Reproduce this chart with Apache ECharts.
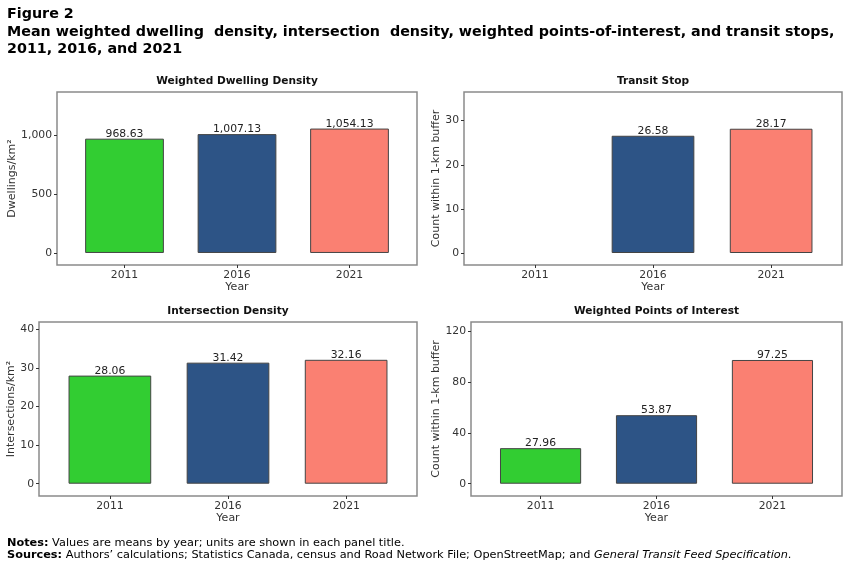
<!DOCTYPE html>
<html>
<head>
<meta charset="utf-8">
<script src="https://cdn.jsdelivr.net/npm/echarts@6/dist/echarts.min.js"></script>
<style>
html,body{margin:0;padding:0;background:#fff;}
#chart{width:850px;height:571px;}
</style>
</head>
<body>
<div id="chart"></div>
<script>
// ---- Data ----
const years = ['2011', '2016', '2021'];
const barColors = ['#32CD32', '#2D5486', '#FA8072'];
const dwellingValues = [968.63, 1007.13, 1054.13];
const transitValues = [null, 26.58, 28.17];
const intersectionValues = [28.06, 31.42, 32.16];
const poiValues = [27.96, 53.87, 97.25];
const dwellingTicks = [0, 500, 1000];
const transitTicks = [0, 10, 20, 30];
const intersectionTicks = [0, 10, 20, 30, 40];
const poiTicks = [0, 40, 80, 120];
const panelTitles = ['Weighted Dwelling Density', 'Transit Stop', 'Intersection Density', 'Weighted Points of Interest'];
const yNames = ['Dwellings/km\u00b2', 'Count within 1-km buffer', 'Intersections/km\u00b2', 'Count within 1-km buffer'];
const xName = 'Year';
const headerLines = ['Figure 2', 'Mean weighted dwelling  density, intersection  density, weighted points-of-interest, and transit stops,', '2011, 2016, and 2021'];

// ---- Layout ----
const FONT = 'DejaVu Sans';
const panels = [
  { values: dwellingValues, ticks: dwellingTicks, grid: {left: 57, top: 92, width: 360, height: 173}, yMin: -102, yMax: 1364, nameGap: 34 },
  { values: transitValues, ticks: transitTicks, grid: {left: 464, top: 92, width: 378, height: 173}, yMin: -2.72, yMax: 36.5, nameGap: 19 },
  { values: intersectionValues, ticks: intersectionTicks, grid: {left: 39, top: 322, width: 378, height: 174}, yMin: -3.19, yMax: 41.97, nameGap: 20 },
  { values: poiValues, ticks: poiTicks, grid: {left: 471, top: 322, width: 371, height: 174}, yMin: -9.65, yMax: 127.1, nameGap: 26 }
];

const fmt = (v, d) => v.toLocaleString('en-US', {minimumFractionDigits: d, maximumFractionDigits: d});

const grids = [], xAxes = [], yAxes = [], series = [], graphics = [];
panels.forEach((p, i) => {
  grids.push(Object.assign({show: true, borderColor: '#8a8a8a', borderWidth: 1.5, backgroundColor: '#fff'}, p.grid));
  xAxes.push({
    type: 'value', gridIndex: i, min: 0.4, max: 3.6,
    name: xName, nameLocation: 'middle', nameGap: 17,
    nameTextStyle: {fontFamily: FONT, fontSize: 11, color: '#333'},
    axisLine: {show: false, onZero: false},
    axisTick: {show: true, length: 3, lineStyle: {color: '#333'}, customValues: [1, 2, 3]},
    axisLabel: {customValues: [1, 2, 3], formatter: v => years[Math.round(v) - 1], fontFamily: FONT, fontSize: 10.8, color: '#333', margin: 4.5},
    splitLine: {show: false}
  });
  yAxes.push({
    type: 'value', gridIndex: i, min: p.yMin, max: p.yMax,
    name: yNames[i], nameLocation: 'middle', nameGap: p.nameGap,
    nameTextStyle: {fontFamily: FONT, fontSize: 11, color: '#333'},
    axisLine: {show: false, onZero: false},
    axisTick: {show: true, length: 3, lineStyle: {color: '#333'}, customValues: p.ticks},
    axisLabel: {customValues: p.ticks, formatter: v => fmt(v, 0), fontFamily: FONT, fontSize: 10.8, color: '#333', margin: 5},
    splitLine: {show: false}
  });
  const data = [];
  p.values.forEach((v, k) => {
    if (v !== null) data.push({value: [k + 1, v], itemStyle: {color: barColors[k]}});
  });
  series.push({
    type: 'bar', xAxisIndex: i, yAxisIndex: i, data: data,
    barWidth: 0.7 * p.grid.width / 3.2,
    itemStyle: {borderColor: '#444', borderWidth: 1},
    label: {show: true, position: 'top', distance: -1, formatter: prm => fmt(prm.value[1], 2), fontFamily: FONT, fontSize: 10.8, color: '#222'},
    silent: true, animation: false
  });
  graphics.push({
    type: 'text', x: p.grid.left + p.grid.width / 2, y: p.grid.top - 11,
    style: {text: panelTitles[i], font: 'bold 10.6px ' + FONT, fill: '#111', textAlign: 'center', textVerticalAlign: 'middle'}
  });
});

// header
const headerY = [14, 32, 49];
headerLines.forEach((t, k) => {
  graphics.push({type: 'text', x: 7, y: headerY[k], style: {text: t, font: 'bold 14.3px ' + FONT, fill: '#000', textAlign: 'left', textVerticalAlign: 'middle'}});
});
// notes
graphics.push({type: 'text', x: 7, y: 543, style: {
  text: '{b|Notes:} Values are means by year; units are shown in each panel title.',
  font: '11.3px ' + FONT, fill: '#000', textVerticalAlign: 'middle',
  rich: {b: {fontWeight: 'bold', fontFamily: FONT, fontSize: 11.3, fill: '#000'}}
}});
graphics.push({type: 'text', x: 7, y: 555, style: {
  text: '{b|Sources:} Authors\u2019 calculations; Statistics Canada, census and Road Network File; OpenStreetMap; and {i|General Transit Feed Specification}.',
  font: '11.3px ' + FONT, fill: '#000', textVerticalAlign: 'middle',
  rich: {b: {fontWeight: 'bold', fontFamily: FONT, fontSize: 11.3, fill: '#000'}, i: {fontStyle: 'italic', fontFamily: FONT, fontSize: 11.3, fill: '#000'}}
}});

const chart = echarts.init(document.getElementById('chart'), null, {renderer: 'canvas'});
chart.setOption({
  animation: false,
  backgroundColor: '#fff',
  textStyle: {fontFamily: FONT},
  grid: grids, xAxis: xAxes, yAxis: yAxes, series: series,
  graphic: graphics
});
</script>
</body>
</html>
